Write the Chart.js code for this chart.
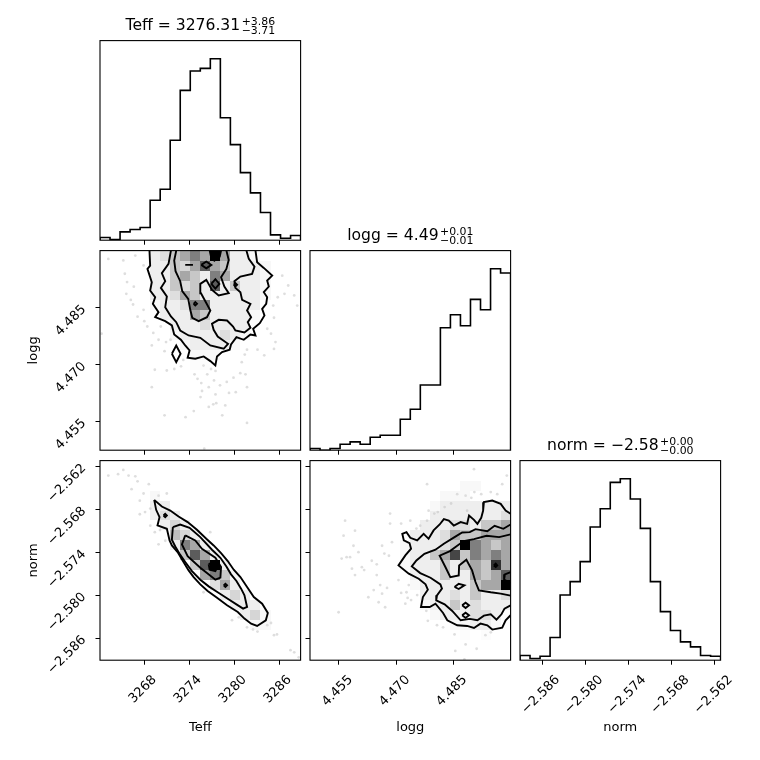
<!DOCTYPE html>
<html><head><meta charset="utf-8">
<script src="https://cdn.jsdelivr.net/npm/chart.js@4.4.0/dist/chart.umd.min.js"></script>
<style>
html,body{margin:0;padding:0;background:#fff;}
#wrap{position:relative;width:760px;height:760px;background:#fff;}
#wrap canvas{position:absolute;left:0;top:0;}
</style></head><body><div id="wrap"></div>
<script>
// ---------------- DATA ----------------
const paramNames = ["Teff", "logg", "norm"];
const teffRange = [3262.09, 3288.85];
const loggRange = [4.4474, 4.5000];
const normRange = [-2.5891, -2.5612];

const teffTicks = [3268, 3274, 3280, 3286];
const teffTickLabels = ["3268", "3274", "3280", "3286"];
const loggTicks = [4.455, 4.470, 4.485];
const loggTickLabels = ["4.455", "4.470", "4.485"];
const normTicks = [-2.586, -2.580, -2.574, -2.568, -2.562];
const normTickLabels = ["\u22122.586", "\u22122.580", "\u22122.574", "\u22122.568", "\u22122.562"];

const teffTitle = ["Teff = 3276.31", "+3.86", "\u22123.71"];
const loggTitle = ["logg = 4.49", "+0.01", "\u22120.01"];
const normTitle = ["norm = \u22122.58", "+0.00", "\u22120.00"];

const teffCounts = [8, 2, 25, 32, 38, 120, 153, 300, 450, 508, 516, 545, 368, 287, 203, 142, 83, 16, 6, 14];
const loggCounts = [5, 0, 5, 18, 25, 18, 39, 45, 45, 93, 123, 196, 196, 368, 407, 374, 453, 422, 545, 532];
const normCounts = [14, 5, 12, 68, 196, 236, 296, 400, 455, 534, 545, 484, 396, 236, 146, 89, 55, 40, 14, 12];

// relative 2D histogram density (percent of max), rows from top (high y) to bottom
const densTeffLogg = [
 [0,0,0,0,0,26,36,47,59,71,59,100,59,26,26,17,0,0,0,0],
 [0,0,0,0,0,26,26,47,40,59,80,59,47,26,26,26,17,0,0,0],
 [0,0,0,0,0,26,26,47,59,47,26,71,59,26,26,26,17,0,0,0],
 [0,0,0,0,0,26,26,47,36,47,26,80,26,47,26,26,17,0,0,0],
 [0,0,0,0,0,26,26,36,59,47,26,26,26,26,26,26,17,0,0,0],
 [0,0,0,0,0,17,26,26,36,71,71,26,26,26,26,26,0,0,0,0],
 [0,0,0,0,0,0,26,26,26,59,47,26,26,26,26,17,0,0,0,0],
 [0,0,0,0,0,0,0,26,26,26,36,26,26,26,26,0,0,0,0,0],
 [0,0,0,0,0,0,0,17,26,26,26,26,36,26,17,0,0,0,0,0],
 [0,0,0,0,0,0,0,0,17,26,26,26,26,17,0,0,0,0,0,0],
 [0,0,0,0,0,0,0,0,0,17,17,17,0,0,0,0,0,0,0,0],
 [0,0,0,0,0,0,0,0,0,10,10,0,0,0,0,0,0,0,0,0],
 [0,0,0,0,0,0,0,0,0,0,0,0,0,0,0,0,0,0,0,0],
 [0,0,0,0,0,0,0,0,0,0,0,0,0,0,0,0,0,0,0,0],
 [0,0,0,0,0,0,0,0,0,0,0,0,0,0,0,0,0,0,0,0],
 [0,0,0,0,0,0,0,0,0,0,0,0,0,0,0,0,0,0,0,0],
 [0,0,0,0,0,0,0,0,0,0,0,0,0,0,0,0,0,0,0,0],
 [0,0,0,0,0,0,0,0,0,0,0,0,0,0,0,0,0,0,0,0],
 [0,0,0,0,0,0,0,0,0,0,0,0,0,0,0,0,0,0,0,0],
 [0,0,0,0,0,0,0,0,0,0,0,0,0,0,0,0,0,0,0,0]
];
const densTeffNorm = [
 [0,0,0,0,0,0,0,0,0,0,0,0,0,0,0,0,0,0,0,0],
 [0,0,0,0,0,0,0,0,0,0,0,0,0,0,0,0,0,0,0,0],
 [0,0,0,0,0,0,0,0,0,0,0,0,0,0,0,0,0,0,0,0],
 [0,0,0,0,0,17,0,0,0,0,0,0,0,0,0,0,0,0,0,0],
 [0,0,0,0,0,26,26,0,0,0,0,0,0,0,0,0,0,0,0,0],
 [0,0,0,0,0,26,36,26,0,0,0,0,0,0,0,0,0,0,0,0],
 [0,0,0,0,0,0,26,40,26,0,0,0,0,0,0,0,0,0,0,0],
 [0,0,0,0,0,0,0,50,40,26,0,0,0,0,0,0,0,0,0,0],
 [0,0,0,0,0,0,0,26,71,59,26,0,0,0,0,0,0,0,0,0],
 [0,0,0,0,0,0,0,0,47,80,59,26,0,0,0,0,0,0,0,0],
 [0,0,0,0,0,0,0,0,0,47,80,100,26,0,0,0,0,0,0,0],
 [0,0,0,0,0,0,0,0,0,0,59,71,47,17,0,0,0,0,0,0],
 [0,0,0,0,0,0,0,0,0,0,0,36,59,26,0,0,0,0,0,0],
 [0,0,0,0,0,0,0,0,0,0,0,0,26,40,26,0,0,0,0,0],
 [0,0,0,0,0,0,0,0,0,0,0,0,0,26,26,26,0,0,0,0],
 [0,0,0,0,0,0,0,0,0,0,0,0,0,0,26,40,17,0,0,0],
 [0,0,0,0,0,0,0,0,0,0,0,0,0,0,0,17,17,0,0,0],
 [0,0,0,0,0,0,0,0,0,0,0,0,0,0,0,0,0,0,0,0],
 [0,0,0,0,0,0,0,0,0,0,0,0,0,0,0,0,0,0,0,0],
 [0,0,0,0,0,0,0,0,0,0,0,0,0,0,0,0,0,0,0,0]
];
const densLoggNorm = [
 [0,0,0,0,0,0,0,0,0,0,0,0,0,0,0,0,0,0,0,0],
 [0,0,0,0,0,0,0,0,0,0,0,0,0,0,0,0,0,0,0,0],
 [0,0,0,0,0,0,0,0,0,0,0,0,0,0,0,17,17,0,0,0],
 [0,0,0,0,0,0,0,0,0,0,0,0,0,17,17,17,0,0,0,0],
 [0,0,0,0,0,0,0,0,0,0,0,0,17,26,26,26,26,26,26,26],
 [0,0,0,0,0,0,0,0,0,0,0,0,26,26,26,26,26,26,26,36],
 [0,0,0,0,0,0,0,0,0,0,0,26,26,26,36,36,26,47,47,59],
 [0,0,0,0,0,0,0,0,0,0,26,26,26,36,59,47,47,59,59,59],
 [0,0,0,0,0,0,0,0,0,17,26,26,26,36,47,100,71,59,47,59],
 [0,0,0,0,0,0,0,0,0,17,26,26,47,59,85,47,71,59,71,59],
 [0,0,0,0,0,0,0,0,0,17,26,26,26,47,26,47,59,47,90,59],
 [0,0,0,0,0,0,0,0,0,0,26,26,26,47,26,26,59,47,59,80],
 [0,0,0,0,0,0,0,0,0,0,17,26,26,26,26,26,47,59,59,100],
 [0,0,0,0,0,0,0,0,0,0,0,26,26,26,36,26,47,26,26,36],
 [0,0,0,0,0,0,0,0,0,0,0,17,26,26,47,26,36,26,26,26],
 [0,0,0,0,0,0,0,0,0,0,0,0,17,26,26,26,36,36,26,0],
 [0,0,0,0,0,0,0,0,0,0,0,0,0,0,17,17,26,26,17,0],
 [0,0,0,0,0,0,0,0,0,0,0,0,0,0,0,10,0,10,0,0],
 [0,0,0,0,0,0,0,0,0,0,0,0,0,0,0,0,0,0,0,0],
 [0,0,0,0,0,0,0,0,0,0,0,0,0,0,0,0,0,0,0,0]
];

// contour lines (Teff, logg)
const contTeffLogg1 = [[3268.69,4.50000],[3268.78,4.49605],[3268.42,4.49518],[3269.00,4.49167],[3268.78,4.48948],[3269.45,4.48772],[3269.14,4.48597],[3269.90,4.48378],[3269.45,4.48246],[3270.79,4.48141],[3271.68,4.48027],[3271.99,4.47790],[3272.88,4.47650],[3273.46,4.47500],[3274.04,4.47369],[3273.78,4.47176],[3274.80,4.47150],[3275.92,4.47211],[3276.81,4.47088],[3277.48,4.46974],[3277.70,4.47211],[3278.37,4.47325],[3279.39,4.47387],[3279.57,4.47527],[3280.29,4.47720],[3281.27,4.47650],[3282.16,4.47790],[3282.83,4.47764],[3282.52,4.47939],[3283.41,4.48088],[3284.03,4.48290],[3283.72,4.48465],[3284.26,4.48597],[3284.39,4.48772],[3283.94,4.48904],[3284.61,4.49053],[3284.39,4.49211],[3285.06,4.49342],[3283.94,4.49544],[3283.05,4.49693],[3282.83,4.50000]];
const contTeffLogg2 = [[3271.55,4.50000],[3271.23,4.49649],[3270.34,4.49404],[3270.79,4.49193],[3270.21,4.49018],[3271.01,4.48790],[3270.79,4.48509],[3271.55,4.48264],[3272.26,4.48114],[3272.79,4.47895],[3273.91,4.47764],[3275.47,4.47702],[3276.81,4.47500],[3278.59,4.47413],[3279.17,4.47544],[3277.79,4.47737],[3277.25,4.47913],[3277.03,4.48071],[3277.92,4.48176],[3279.04,4.48158],[3279.84,4.48000],[3280.15,4.47895],[3281.36,4.47843],[3282.16,4.47965],[3281.80,4.48114],[3282.25,4.48246],[3281.71,4.48421],[3282.16,4.48597],[3281.05,4.48702],[3280.82,4.48904],[3280.15,4.49018],[3280.02,4.49193],[3280.82,4.49316],[3282.38,4.49386],[3282.70,4.49579],[3281.94,4.49781],[3281.62,4.50000]];
const contTeffLogg3 = [[3272.26,4.50000],[3271.99,4.49737],[3272.17,4.49456],[3272.79,4.49193],[3273.06,4.48930],[3273.86,4.48728],[3274.13,4.48439],[3274.40,4.48228],[3275.25,4.48141],[3276.36,4.48246],[3276.81,4.48421],[3276.14,4.48667],[3275.56,4.48877],[3275.47,4.49123],[3276.27,4.49228],[3277.03,4.48965],[3277.92,4.48816],[3279.26,4.48877],[3278.68,4.49053],[3278.24,4.49298],[3278.95,4.49518],[3279.26,4.49754],[3278.95,4.50000]];
const contTeffLogg4 = [
 [[3276.72,4.50000],[3276.90,4.49842],[3277.34,4.49737],[3278.06,4.49842],[3278.24,4.50000]],
 [[3275.60,4.49623],[3276.27,4.49711],[3276.94,4.49623],[3276.27,4.49535],[3275.60,4.49623]],
 [[3273.46,4.49623],[3274.49,4.49623]],
 [[3276.94,4.49123],[3277.48,4.49246],[3278.01,4.49123],[3277.48,4.49000],[3276.94,4.49123]],
 [[3274.58,4.48597],[3274.80,4.48641],[3275.03,4.48597],[3274.80,4.48553],[3274.58,4.48597]],
 [[3279.93,4.49097],[3280.15,4.49141],[3280.38,4.49097],[3280.15,4.49053],[3279.93,4.49097]],
 [[3271.68,4.47281],[3272.26,4.47500],[3272.84,4.47281],[3272.26,4.47062],[3271.68,4.47281]]
];

// contour lines (Teff, norm)
const contTeffNorm1 = [[3269.32,-2.56669],[3270.34,-2.56762],[3271.46,-2.56818],[3272.57,-2.56901],[3273.78,-2.56980],[3275.02,-2.57087],[3276.27,-2.57213],[3277.25,-2.57306],[3278.24,-2.57413],[3279.13,-2.57524],[3279.93,-2.57645],[3280.82,-2.57748],[3281.71,-2.57887],[3282.61,-2.58027],[3283.72,-2.58120],[3284.48,-2.58250],[3284.21,-2.58352],[3283.05,-2.58431],[3282.25,-2.58399],[3281.36,-2.58329],[3280.47,-2.58236],[3279.04,-2.58143],[3277.70,-2.58036],[3276.45,-2.57943],[3275.47,-2.57850],[3274.58,-2.57748],[3273.91,-2.57655],[3273.15,-2.57524],[3272.44,-2.57399],[3271.68,-2.57306],[3271.37,-2.57236],[3271.01,-2.57073],[3269.76,-2.57027],[3270.03,-2.56911],[3269.58,-2.56808],[3269.32,-2.56669]];
const contTeffNorm2 = [[3271.81,-2.57050],[3272.79,-2.57013],[3274.04,-2.57059],[3275.47,-2.57190],[3277.03,-2.57366],[3278.15,-2.57478],[3278.95,-2.57599],[3279.57,-2.57710],[3280.29,-2.57803],[3280.91,-2.57910],[3281.36,-2.58003],[3281.71,-2.58166],[3281.18,-2.58189],[3280.29,-2.58129],[3279.13,-2.58050],[3277.79,-2.57961],[3276.59,-2.57878],[3275.47,-2.57785],[3274.36,-2.57664],[3273.46,-2.57538],[3272.70,-2.57422],[3272.13,-2.57320],[3271.68,-2.57227],[3271.81,-2.57050]];
const contTeffNorm3 = [[3273.46,-2.57166],[3274.80,-2.57236],[3275.69,-2.57352],[3277.48,-2.57478],[3278.24,-2.57608],[3278.15,-2.57757],[3277.48,-2.57785],[3276.36,-2.57692],[3275.47,-2.57617],[3273.78,-2.57455],[3273.02,-2.57292],[3273.46,-2.57166]];
const contTeffNorm4 = [
 [[3276.59,-2.57571],[3277.34,-2.57524],[3277.79,-2.57599],[3277.48,-2.57664],[3276.72,-2.57645],[3276.59,-2.57571]],
 [[3270.56,-2.56887],[3270.79,-2.56864],[3271.01,-2.56887],[3270.79,-2.56911],[3270.56,-2.56887]],
 [[3278.59,-2.57864],[3278.82,-2.57841],[3279.04,-2.57864],[3278.82,-2.57887],[3278.59,-2.57864]]
];

// contour lines (logg, norm)
const contLoggNorm1 = [[4.5000,-2.56864],[4.4987,-2.56818],[4.4974,-2.56725],[4.4952,-2.56678],[4.4930,-2.56701],[4.4928,-2.56818],[4.4923,-2.56920],[4.4913,-2.57004],[4.4904,-2.56948],[4.4891,-2.56887],[4.4886,-2.57004],[4.4869,-2.56980],[4.4851,-2.57027],[4.4838,-2.56957],[4.4825,-2.56938],[4.4814,-2.57013],[4.4798,-2.57096],[4.4785,-2.57213],[4.4772,-2.57143],[4.4755,-2.57236],[4.4737,-2.57199],[4.4727,-2.57120],[4.4716,-2.57143],[4.4720,-2.57236],[4.4735,-2.57273],[4.4739,-2.57352],[4.4724,-2.57445],[4.4706,-2.57585],[4.4733,-2.57701],[4.4759,-2.57771],[4.4777,-2.57850],[4.4783,-2.57924],[4.4770,-2.58027],[4.4765,-2.58166],[4.4788,-2.58166],[4.4803,-2.58120],[4.4823,-2.58250],[4.4834,-2.58352],[4.4860,-2.58422],[4.4886,-2.58431],[4.4904,-2.58459],[4.4921,-2.58399],[4.4939,-2.58422],[4.4952,-2.58482],[4.4978,-2.58454],[4.4987,-2.58352],[4.5000,-2.58282]];
const contLoggNorm2 = [[4.5000,-2.57013],[4.4981,-2.57073],[4.4958,-2.57031],[4.4939,-2.57106],[4.4908,-2.57078],[4.4893,-2.57120],[4.4873,-2.57124],[4.4853,-2.57190],[4.4825,-2.57283],[4.4803,-2.57366],[4.4774,-2.57422],[4.4753,-2.57515],[4.4741,-2.57599],[4.4763,-2.57692],[4.4790,-2.57757],[4.4816,-2.57850],[4.4820,-2.57910],[4.4807,-2.58003],[4.4805,-2.58073],[4.4827,-2.58129],[4.4847,-2.58222],[4.4869,-2.58352],[4.4893,-2.58333],[4.4913,-2.58352],[4.4930,-2.58287],[4.4948,-2.58268],[4.4963,-2.58343],[4.4976,-2.58268],[4.4984,-2.58189],[4.5000,-2.58143]];
const contLoggNorm3 = [[4.5000,-2.57152],[4.4970,-2.57190],[4.4937,-2.57171],[4.4904,-2.57217],[4.4877,-2.57245],[4.4860,-2.57310],[4.4841,-2.57385],[4.4814,-2.57450],[4.4829,-2.57608],[4.4842,-2.57748],[4.4864,-2.57724],[4.4865,-2.57585],[4.4884,-2.57506],[4.4899,-2.57655],[4.4908,-2.57817],[4.4917,-2.57934],[4.4948,-2.57961],[4.4974,-2.57980],[4.5000,-2.58008]];
const contLoggNorm4 = [
 [[4.5000,-2.57678],[4.4985,-2.57710],[4.4983,-2.57785],[4.5000,-2.57831]],
 [[4.4956,-2.57585],[4.4961,-2.57561],[4.4965,-2.57585],[4.4961,-2.57608],[4.4956,-2.57585]],
 [[4.4853,-2.57887],[4.4864,-2.57841],[4.4879,-2.57864],[4.4864,-2.57915],[4.4853,-2.57887]],
 [[4.4873,-2.58143],[4.4882,-2.58106],[4.4891,-2.58143],[4.4882,-2.58180],[4.4873,-2.58143]],
 [[4.4873,-2.58282],[4.4882,-2.58245],[4.4891,-2.58282],[4.4882,-2.58319],[4.4873,-2.58282]]
];

// individual samples outside the contours
const ptsTeffLogg = [[3263.2,4.4978],[3265.2,4.4974],[3266.8,4.4987],[3267.9,4.4961],[3265.4,4.4939],[3265.7,4.4917],[3266.6,4.4905],[3265.6,4.4886],[3266.2,4.4870],[3266.5,4.4858],[3267.9,4.4844],[3267.1,4.4826],[3268.0,4.4814],[3268.4,4.4800],[3270.2,4.4800],[3269.2,4.4783],[3269.9,4.4765],[3270.9,4.4759],[3271.5,4.4765],[3270.7,4.4735],[3269.0,4.4750],[3262.3,4.4781],[3269.4,4.4686],[3271.0,4.4684],[3272.0,4.4688],[3272.9,4.4695],[3273.2,4.4712],[3274.7,4.4674],[3275.1,4.4662],[3275.6,4.4651],[3276.4,4.4674],[3276.9,4.4688],[3277.5,4.4683],[3277.3,4.4658],[3278.1,4.4645],[3276.6,4.4640],[3275.7,4.4630],[3277.5,4.4621],[3279.3,4.4625],[3280.2,4.4627],[3279.0,4.4654],[3279.9,4.4665],[3280.8,4.4677],[3281.5,4.4674],[3281.0,4.4706],[3281.4,4.4726],[3281.7,4.4739],[3283.1,4.4739],[3284.0,4.4724],[3285.3,4.4741],[3285.5,4.4759],[3284.9,4.4781],[3284.4,4.4794],[3285.3,4.4823],[3285.2,4.4855],[3285.8,4.4877],[3286.7,4.4886],[3288.0,4.4882],[3288.4,4.4855],[3287.2,4.4908],[3286.4,4.4934],[3269.0,4.4640],[3270.7,4.4566],[3273.5,4.4561],[3274.6,4.4577],[3276.6,4.4588],[3277.2,4.4595],[3277.6,4.4598],[3278.8,4.4592],[3278.4,4.4566],[3281.7,4.4546],[3276.0,4.4478],[3275.5,4.4614],[3275.9,4.4697],[3281.7,4.4640]];
const ptsTeffNorm = [[3263.2,-2.5633],[3264.5,-2.5631],[3265.2,-2.5625],[3265.9,-2.5633],[3266.8,-2.5634],[3267.1,-2.5641],[3266.3,-2.5652],[3267.9,-2.5658],[3268.6,-2.5645],[3267.4,-2.5668],[3268.8,-2.5679],[3268.1,-2.5684],[3267.4,-2.5687],[3268.8,-2.5703],[3269.4,-2.5712],[3269.9,-2.5729],[3270.8,-2.5724],[3270.1,-2.5709],[3271.0,-2.5658],[3269.9,-2.5661],[3276.8,-2.5712],[3275.9,-2.5796],[3279.7,-2.5835],[3280.6,-2.5831],[3281.7,-2.5845],[3282.5,-2.5848],[3284.4,-2.5842],[3284.9,-2.5839],[3285.3,-2.5856],[3285.7,-2.5855],[3287.5,-2.5877],[3288.0,-2.5880],[3288.6,-2.5887],[3283.1,-2.5851]];
const ptsLoggNorm = [[4.4566,-2.5696],[4.4592,-2.5710],[4.4562,-2.5717],[4.4588,-2.5731],[4.4579,-2.5747],[4.4557,-2.5749],[4.4610,-2.5761],[4.4584,-2.5763],[4.4592,-2.5772],[4.4616,-2.5765],[4.4636,-2.5752],[4.4649,-2.5757],[4.4669,-2.5742],[4.4681,-2.5745],[4.4663,-2.5731],[4.4689,-2.5726],[4.4684,-2.5686],[4.4713,-2.5700],[4.4737,-2.5696],[4.4753,-2.5707],[4.4763,-2.5703],[4.4781,-2.5696],[4.4785,-2.5682],[4.4800,-2.5686],[4.4809,-2.5684],[4.4827,-2.5677],[4.4844,-2.5672],[4.4860,-2.5659],[4.4882,-2.5661],[4.4886,-2.5682],[4.4897,-2.5664],[4.4905,-2.5656],[4.4923,-2.5659],[4.4948,-2.5656],[4.4965,-2.5659],[4.4978,-2.5645],[4.4990,-2.5633],[4.4904,-2.5624],[4.4781,-2.5645],[4.4641,-2.5793],[4.4658,-2.5786],[4.4676,-2.5790],[4.4663,-2.5798],[4.4654,-2.5810],[4.4671,-2.5817],[4.4627,-2.5803],[4.4713,-2.5797],[4.4727,-2.5796],[4.4730,-2.5804],[4.4724,-2.5812],[4.4739,-2.5807],[4.4755,-2.5800],[4.4549,-2.5824],[4.4733,-2.5786],[4.4779,-2.5822],[4.4783,-2.5836],[4.4807,-2.5842],[4.4823,-2.5845],[4.4853,-2.5855],[4.4882,-2.5869],[4.4911,-2.5875],[4.4934,-2.5856],[4.4948,-2.5852],[4.4855,-2.5878],[4.4879,-2.5890],[4.4649,-2.5772],[4.4601,-2.5740],[4.4570,-2.5747],[4.4684,-2.5700],[4.4706,-2.5779]];

// ---------------- LAYOUT / DRAWING ----------------
const FONT = '"DejaVu Sans", "Liberation Sans", sans-serif';
const COL_X = [100, 310, 520];
const ROW_Y = [40.6, 250.6, 460.6];
const PW = 200.6, PH = 199.6;
const wrap = document.getElementById('wrap');

const deco = {
  id: 'deco',
  afterDatasetDraw(chart, args, opts) {
    const ds = chart.data.datasets[args.index];
    if (!ds.isPoints || !opts.density) return;
    const {grid, xr, yr} = opts.density;
    const sx = chart.scales.x, sy = chart.scales.y, ca = chart.chartArea, ctx = chart.ctx;
    const nr = grid.length, nc = grid[0].length;
    const bw = (xr[1] - xr[0]) / nc, bh = (yr[1] - yr[0]) / nr;
    let hmax = 0;
    grid.forEach(r => r.forEach(v => { if (v > hmax) hmax = v; }));
    ctx.save();
    ctx.beginPath(); ctx.rect(ca.left, ca.top, ca.width, ca.height); ctx.clip();
    for (let r = 0; r < nr; r++) {
      for (let c = 0; c < nc; c++) {
        const v = grid[r][c];
        if (!v) continue;
        const d = v / hmax;
        const x0 = Math.round(sx.getPixelForValue(xr[0] + c * bw));
        const x1 = Math.round(sx.getPixelForValue(xr[0] + (c + 1) * bw));
        const y0 = Math.round(sy.getPixelForValue(yr[1] - r * bh));
        const y1 = Math.round(sy.getPixelForValue(yr[1] - (r + 1) * bh));
        const g = Math.round(255 * (1 - d));
        ctx.fillStyle = `rgba(${g},${g},${g},${d})`;
        ctx.fillRect(x0, y0, x1 - x0, y1 - y0);
      }
    }
    ctx.restore();
  },
  afterDraw(chart, args, opts) {
    const ctx = chart.ctx, ca = chart.chartArea;
    ctx.save();
    ctx.strokeStyle = '#000';
    ctx.lineWidth = 1.1;
    ctx.strokeRect(ca.left, ca.top, ca.width, ca.height);
    ctx.fillStyle = '#000';
    if (opts.xLabels) {
      const sx = chart.scales.x;
      ctx.font = `13px ${FONT}`;
      ctx.textAlign = 'center'; ctx.textBaseline = 'middle';
      opts.xTicks.forEach((v, i) => {
        const lab = opts.xLabels[i];
        const w = ctx.measureText(lab).width;
        const px = sx.getPixelForValue(v) - 1.5;
        const py = ca.bottom + 14 + 0.354 * (w + 10);
        ctx.save(); ctx.translate(px, py); ctx.rotate(-Math.PI / 4); ctx.fillText(lab, 0, 0); ctx.restore();
      });
    }
    if (opts.yLabels) {
      const sy = chart.scales.y;
      ctx.font = `13px ${FONT}`;
      ctx.textAlign = 'right'; ctx.textBaseline = 'middle';
      opts.yTicks.forEach((v, i) => {
        const py = sy.getPixelForValue(v);
        ctx.save(); ctx.translate(ca.left - 16, py); ctx.rotate(-Math.PI / 4); ctx.fillText(opts.yLabels[i], 0, 0); ctx.restore();
      });
    }
    if (opts.xTitle) {
      ctx.font = `13px ${FONT}`;
      ctx.textAlign = 'center'; ctx.textBaseline = 'alphabetic';
      ctx.fillText(opts.xTitle, (ca.left + ca.right) / 2, 731);
    }
    if (opts.yTitle) {
      ctx.font = `13px ${FONT}`;
      ctx.textAlign = 'center'; ctx.textBaseline = 'alphabetic';
      ctx.save(); ctx.translate(36.5, (ca.top + ca.bottom) / 2); ctx.rotate(-Math.PI / 2);
      ctx.fillText(opts.yTitle, 0, 0); ctx.restore();
    }
    if (opts.title) {
      const [main, sup, sub] = opts.title;
      ctx.textAlign = 'left'; ctx.textBaseline = 'alphabetic';
      ctx.font = `15.6px ${FONT}`;
      const wm = ctx.measureText(main).width;
      ctx.font = `10.9px ${FONT}`;
      const ws = Math.max(ctx.measureText(sup).width, ctx.measureText(sub).width);
      const x0 = (ca.left + ca.right) / 2 - (wm + ws + 1.5) / 2;
      const yb = ca.top - 10.5;
      ctx.font = `15.6px ${FONT}`;
      ctx.fillText(main, x0, yb);
      ctx.font = `10.9px ${FONT}`;
      ctx.fillText(sup, x0 + wm + 1.5, yb - 5.5);
      ctx.fillText(sub, x0 + wm + 1.5, yb + 4);
    }
    ctx.restore();
  }
};
Chart.register(deco);

function axisOpts(range, ticks) {
  return {
    type: 'linear', min: range[0], max: range[1], display: true,
    afterBuildTicks: s => { s.ticks = ticks.map(v => ({value: v})); },
    afterFit: s => { if (s.isHorizontal()) s.height = 0; else s.width = 0; },
    ticks: {display: false},
    grid: {display: true, drawOnChartArea: false, drawTicks: true, tickLength: 4.5, color: '#000', lineWidth: 1},
    border: {display: false}
  };
}
function hiddenAxis(min, max) {
  return {type: 'linear', min: min, max: max, display: false};
}
function histPoints(counts, range) {
  const n = counts.length, bw = (range[1] - range[0]) / n;
  const pts = [{x: range[0], y: 0}];
  counts.forEach((c, i) => pts.push({x: range[0] + i * bw, y: c}));
  pts.push({x: range[1], y: counts[n - 1]});
  pts.push({x: range[1], y: 0});
  return pts;
}
const toXY = arr => arr.map(p => ({x: p[0], y: p[1]}));
function contourSet(lines) {
  return lines.map(l => ({data: toXY(l), showLine: true, borderColor: '#000', borderWidth: 1.9,
    pointRadius: 0, fill: false, tension: 0, order: 1}));
}
function pointSet(pts) {
  return {data: toXY(pts), showLine: false, pointRadius: 1.4, pointBorderWidth: 0,
    backgroundColor: 'rgba(0,0,0,0.13)', borderColor: 'rgba(0,0,0,0)', order: 3, isPoints: true};
}
function makePanel(col, row, datasets, xAxis, yAxis, decoOpts) {
  const left = COL_X[col], top = ROW_Y[row];
  const cv = document.createElement('canvas');
  cv.width = 760; cv.height = 760;
  cv.style.width = '760px'; cv.style.height = '760px';
  wrap.appendChild(cv);
  new Chart(cv, {
    type: 'scatter',
    data: {datasets: datasets},
    options: {
      responsive: false, animation: false, events: [],
      layout: {padding: {left: left, top: top, right: 760 - left - PW, bottom: 760 - top - PH}},
      scales: {x: xAxis, y: yAxis},
      plugins: {legend: {display: false}, tooltip: {enabled: false}, title: {display: false}, deco: decoOpts}
    }
  });
}
function histSet(counts, range) {
  return [{data: histPoints(counts, range), showLine: true, stepped: 'before', borderColor: '#000',
    borderWidth: 1.6, pointRadius: 0, fill: false}];
}

// diagonal histograms
makePanel(0, 0, histSet(teffCounts, teffRange), axisOpts(teffRange, teffTicks),
  hiddenAxis(0, 1.1 * Math.max(...teffCounts)), {title: teffTitle});
makePanel(1, 1, histSet(loggCounts, loggRange), axisOpts(loggRange, loggTicks),
  hiddenAxis(0, 1.1 * Math.max(...loggCounts)), {title: loggTitle});
makePanel(2, 2, histSet(normCounts, normRange), axisOpts(normRange, normTicks),
  hiddenAxis(0, 1.1 * Math.max(...normCounts)),
  {title: normTitle, xTicks: normTicks, xLabels: normTickLabels, xTitle: paramNames[2]});

// 2D panels
makePanel(0, 1,
  [...contourSet([contTeffLogg1, contTeffLogg2, contTeffLogg3, ...contTeffLogg4]), pointSet(ptsTeffLogg)],
  axisOpts(teffRange, teffTicks), axisOpts(loggRange, loggTicks),
  {density: {grid: densTeffLogg, xr: teffRange, yr: loggRange},
   yTicks: loggTicks, yLabels: loggTickLabels, yTitle: paramNames[1]});
makePanel(0, 2,
  [...contourSet([contTeffNorm1, contTeffNorm2, contTeffNorm3, ...contTeffNorm4]), pointSet(ptsTeffNorm)],
  axisOpts(teffRange, teffTicks), axisOpts(normRange, normTicks),
  {density: {grid: densTeffNorm, xr: teffRange, yr: normRange},
   xTicks: teffTicks, xLabels: teffTickLabels, xTitle: paramNames[0],
   yTicks: normTicks, yLabels: normTickLabels, yTitle: paramNames[2]});
makePanel(1, 2,
  [...contourSet([contLoggNorm1, contLoggNorm2, contLoggNorm3, ...contLoggNorm4]), pointSet(ptsLoggNorm)],
  axisOpts(loggRange, loggTicks), axisOpts(normRange, normTicks),
  {density: {grid: densLoggNorm, xr: loggRange, yr: normRange},
   xTicks: loggTicks, xLabels: loggTickLabels, xTitle: paramNames[1]});
</script>
</body></html>
